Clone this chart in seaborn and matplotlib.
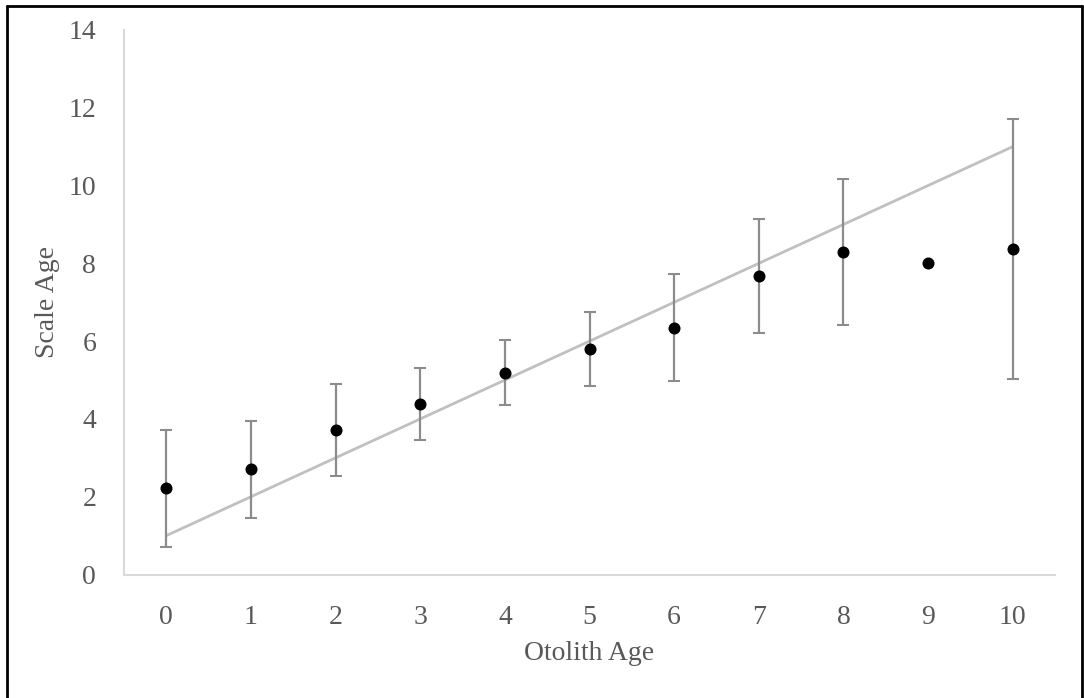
import numpy as np
import matplotlib
matplotlib.use("Agg")
import matplotlib.pyplot as plt
import seaborn as sns
from matplotlib.lines import Line2D

# Data
otolith_age = [0, 1, 2, 3, 4, 5, 6, 7, 8, 9, 10]
scale_age_mean = [2.22, 2.70, 3.71, 4.39, 5.19, 5.79, 6.35, 7.68, 8.29, 8.00, 8.36]
scale_age_sd = [1.50, 1.25, 1.18, 0.92, 0.84, 0.95, 1.38, 1.46, 1.88, 0.0, 3.34]
# 1:1 reference line (scale age = otolith age + 1)
line_x = [0, 10]
line_y = [1, 11]

sns.set_style("white")
plt.rcParams['font.family'] = ['Liberation Serif', 'DejaVu Serif']

fig = plt.figure(figsize=(10.84, 6.98), dpi=100)
ax = fig.add_axes([0.1144, 0.1769, 0.8589, 0.7802])

sns.lineplot(x=line_x, y=line_y, ax=ax, color="#c0c0c0", linewidth=2, zorder=1)

err = np.array(scale_age_sd)
mask = err > 0
ax.errorbar(np.array(otolith_age)[mask], np.array(scale_age_mean)[mask], yerr=err[mask],
            fmt="none", ecolor="#8c8c8c", elinewidth=1.6, capsize=4, capthick=1.5, zorder=2)

sns.scatterplot(x=otolith_age, y=scale_age_mean, ax=ax, color="black", s=75,
                edgecolor="black", linewidth=0, zorder=3)

ax.set_xlim(-0.5, 10.5)
ax.set_ylim(0, 14)
ax.set_xticks(otolith_age)
ax.set_yticks(range(0, 15, 2))
ax.tick_params(axis="both", length=0, labelsize=20, labelcolor="#595959")
ax.tick_params(axis="x", pad=22)
ax.tick_params(axis="y", pad=20)

for side in ["top", "right"]:
    ax.spines[side].set_visible(False)
for side in ["left", "bottom"]:
    ax.spines[side].set_color("#d9d9d9")
    ax.spines[side].set_linewidth(1.5)

ax.set_xlabel("Otolith Age", fontsize=20, color="#595959", labelpad=8)
ax.set_ylabel("Scale Age", fontsize=20, color="#595959", labelpad=6)

# outer frame of the figure image
for xs, ys in [([0.006, 0.006], [0, 0.991]), ([0.006, 0.998], [0.991, 0.991]), ([0.998, 0.998], [0, 0.991])]:
    fig.add_artist(Line2D(xs, ys, transform=fig.transFigure, color="black", linewidth=2))

fig.savefig("out.png", dpi=100)
